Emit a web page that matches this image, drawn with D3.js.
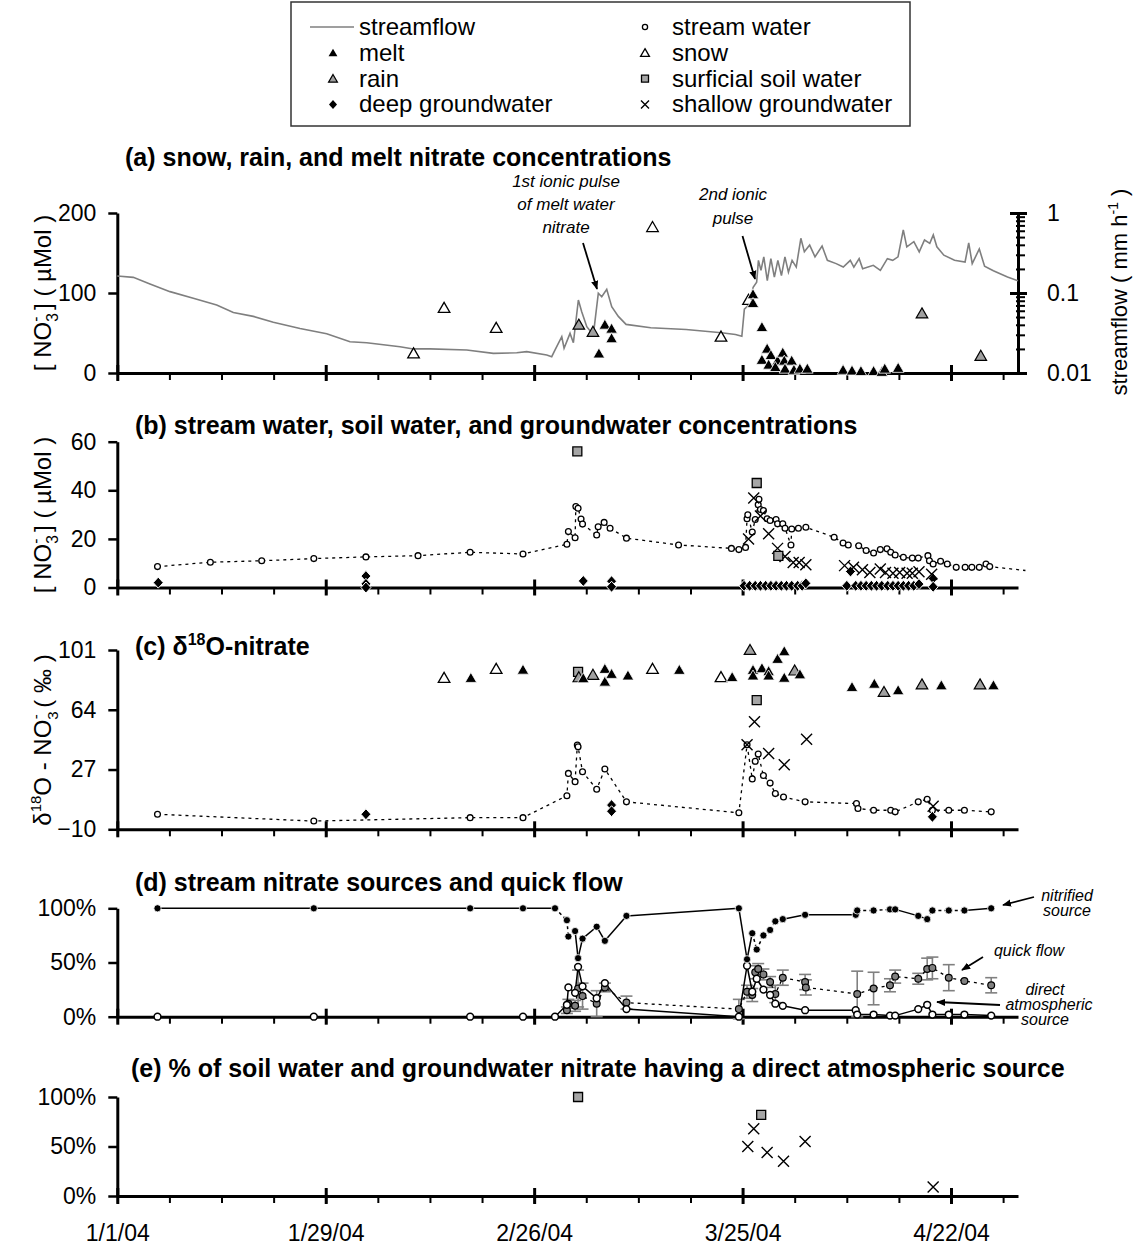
<!DOCTYPE html>
<html>
<head>
<meta charset="utf-8">
<script src="https://cdn.jsdelivr.net/npm/d3@7"></script>
<style>
  body { margin: 0; background: #fff; }
  svg text { font-family: "Liberation Sans", Arial, Helvetica, sans-serif; }
</style>
</head>
<body>
<svg id="chart" width="1133" height="1245"></svg>
<script>
// ---- data (days after 1/1/04, value) ----
var dateLabels = ["1/1/04", "1/29/04", "2/26/04", "3/25/04", "4/22/04"];
var legendLeft = ["streamflow", "melt", "rain", "deep groundwater"];
var legendRight = ["stream water", "snow", "surficial soil water", "shallow groundwater"];

// streamflow (mm/h)
var flowDays = [0, 2.15, 4.39, 7.08, 10.21, 13.35, 15.59, 18.27, 20.96, 24.55, 28.13, 31.26, 33.51, 37.98, 39.77, 42.01,
  46.94, 50.52, 53.66, 55.0, 57.69, 58.36, 58.81, 59.71, 60.02, 60.82, 61.27, 61.94, 62.39, 63.07, 63.95, 64.62, 65.08,
  65.75, 66.42, 67.31, 68.35, 71.66, 76.41, 81.16, 83.04, 83.9, 84.24, 84.95, 85.42, 85.89, 86.13, 86.47, 86.85, 87.32,
  87.8, 88.27, 88.74, 89.22, 89.69, 90.16, 90.65, 91.21, 91.83, 92.3, 93.01, 93.73, 94.68, 95.39, 96.57, 97.53, 98.47,
  98.95, 99.66, 100.13, 101.56, 102.51, 103.45, 104.17, 104.88, 105.59, 106.06, 107.01, 107.73, 108.44, 109.15, 109.62,
  110.1, 111.04, 112.47, 113.89, 114.38, 114.85, 115.8, 116.51, 117.69, 119.59, 121.0];
var flowVals = [0.163, 0.157, 0.130, 0.104, 0.086, 0.071, 0.057, 0.051, 0.043, 0.036, 0.031, 0.0246, 0.0239, 0.0213, 0.0200, 0.0200,
  0.0194, 0.0176, 0.0179, 0.0185, 0.0168, 0.0160, 0.0194, 0.0284, 0.0204, 0.0313, 0.0239, 0.0818, 0.0584, 0.0379, 0.0299, 0.0992, 0.0899,
  0.111, 0.0674, 0.051, 0.0405, 0.0367, 0.0350, 0.0318, 0.0303, 0.0288, 0.0627, 0.0726, 0.118, 0.136, 0.256, 0.192, 0.283, 0.143,
  0.269, 0.158, 0.256, 0.165, 0.283, 0.182, 0.256, 0.211, 0.483, 0.327, 0.397, 0.283, 0.387, 0.256, 0.233, 0.211, 0.256,
  0.211, 0.269, 0.201, 0.222, 0.192, 0.269, 0.256, 0.283, 0.615, 0.378, 0.438, 0.327, 0.460, 0.417, 0.532,
  0.378, 0.297, 0.256, 0.244, 0.422, 0.233, 0.355, 0.216, 0.190, 0.159, 0.142];

// (a) NO3- concentrations in precipitation (µMol)
var meltA = [[64.7, 23], [65.5, 59], [66.4, 54], [66.4, 42], [85.4, 97], [85.4, 86], [86.6, 56], [87.3, 29], [86.6, 15],
  [87.8, 21], [87.5, 9], [88.7, 14], [88.4, 6], [89.4, 24], [89.6, 14], [89.7, 4], [90.6, 14], [90.9, 2.5], [91.7, 4],
  [92.7, 4], [97.5, 2.5], [98.7, 1.6], [99.9, 1], [101.6, 1], [102.7, 0], [103.1, 4], [104.9, 5]];
var rainA = [[62.0, 59], [63.9, 50], [108.1, 73], [116.0, 20]];
var snowA = [[39.8, 23], [43.9, 80], [50.9, 55], [71.9, 181], [81.1, 44], [84.8, 90]];

// (b) stream water, soil water, groundwater NO3- (µMol)
var streamB = [[5.4, 8.6], [12.5, 10.4], [19.4, 11.0], [26.4, 11.9], [33.4, 12.6], [40.4, 13.1], [47.4, 14.5], [54.5, 13.8],
  [60.4, 17.8], [60.6, 23.0], [61.5, 20.5], [61.6, 33.3], [61.9, 32.6], [62.3, 28.2], [62.5, 26.1], [64.4, 21.6], [64.6, 25.0],
  [65.4, 26.8], [66.2, 24.4], [68.4, 20.3], [75.4, 17.5], [82.5, 16.1], [83.5, 15.6], [84.4, 16.5], [84.6, 28.3], [84.7, 29.9],
  [85.3, 22.8], [85.7, 28.0], [86.1, 34.1], [86.2, 36.3], [86.4, 32.1], [86.8, 31.7], [87.3, 28.3], [87.7, 27.6], [88.5, 28.0],
  [88.7, 26.2], [89.4, 26.2], [89.7, 24.4], [90.5, 17.5], [90.6, 24.1], [91.5, 24.4], [92.5, 24.8], [96.3, 20.7], [97.5, 18.3],
  [98.2, 17.5], [99.6, 17.2], [100.6, 15.2], [101.6, 14.2], [102.5, 15.6], [103.4, 15.9], [103.9, 14.5], [104.5, 13.4],
  [105.6, 12.4], [106.8, 12.1], [107.6, 12.1], [108.9, 13.1], [109.1, 11.0], [109.6, 9.7], [110.6, 10.8], [111.5, 9.7],
  [112.7, 8.3], [113.9, 8.3], [114.8, 8.3], [115.8, 8.3], [116.7, 9.7], [117.2, 8.6]];
var streamBLineEnd = [122.0, 7];
var soilB = [[61.8, 56], [85.9, 43], [88.8, 13]];
var shallowB = [[84.8, 20], [85.5, 36.8], [86.4, 29.4], [87.5, 22.1], [88.7, 16.1], [89.7, 12.8], [90.8, 10.3], [91.6, 10.3],
  [92.5, 9.4], [97.7, 9.0], [98.9, 8.3], [100.1, 7.3], [101.1, 6.2], [102.5, 7.6], [103.2, 6.2], [104.2, 5.9], [105.1, 6.2],
  [106.1, 5.9], [106.8, 5.9], [107.7, 6.5], [109.4, 5.5]];
var deepB = [[5.5, 2.0], [33.4, 4.7], [33.4, 1.5], [33.4, 0], [62.6, 2.7], [66.4, 2.6], [66.4, 0.3],
  [84.2, 0.7], [84.95, 0.7], [85.7, 0.7], [86.4, 0.7], [87.1, 0.7], [87.8, 0.7], [88.5, 0.7], [89.2, 0.7], [89.9, 0.7],
  [90.6, 0.7], [91.4, 0.7], [92.0, 0.7], [92.5, 1.7],
  [98.0, 0.7], [98.5, 6.6], [99.2, 0.7], [99.9, 0.7], [100.6, 0.7], [101.3, 0.7], [102.0, 0.7], [102.7, 0.7], [103.5, 0.7],
  [104.2, 0.7], [104.9, 0.7], [105.6, 0.7], [106.3, 0.7], [107.0, 0.7], [107.7, 1.4], [109.6, 3.7], [109.6, 0.3]];

// (c) δ18O-nitrate (‰)
var streamC = [[5.4, -0.7], [26.4, -4.9], [47.4, -2.8], [54.5, -2.8], [60.4, 10.8], [60.6, 24.6], [61.5, 19.5], [61.8, 42.2],
  [61.9, 41.1], [62.5, 25.6], [64.4, 14.8], [65.5, 27.3], [68.4, 7.0], [83.5, 0.2], [84.6, 42.3], [85.3, 21.2], [85.7, 32.1],
  [86.1, 36.6], [86.8, 23.3], [87.7, 18.6], [88.4, 12.1], [89.5, 10.0], [92.4, 7.0], [99.3, 5.9], [99.5, 2.9], [101.6, 1.8],
  [103.9, 1.8], [104.5, 0.8], [107.6, 7.0], [108.8, 8.6], [109.5, 1.8], [111.7, 1.8], [113.8, 1.8], [117.4, 0.8]];
var meltC = [[47.5, 83.0], [54.5, 88.1], [62.6, 82.8], [65.5, 88.6], [65.5, 80.7], [66.4, 85.5], [68.6, 84.5], [75.5, 88.0],
  [82.6, 83.5], [85.4, 88.0], [85.4, 84.5], [86.6, 89.0], [87.5, 87.2], [87.5, 84.5], [88.7, 94.8], [89.6, 99.5], [89.6, 83.1],
  [91.7, 85.2], [98.7, 77.4], [101.7, 79.4], [104.9, 75.4], [110.7, 78.4], [117.7, 78.4]];
var rainC = [[62.0, 83.4], [63.9, 84.9], [85.0, 100.3], [91.0, 87.6], [103.0, 74.3], [108.1, 79.0], [115.9, 79.0]];
var snowC = [[43.9, 83.0], [50.9, 88.6], [71.9, 88.6], [81.1, 83.5]];
var soilC = [[61.9, 87.5], [85.9, 70]];
var shallowC = [[84.6, 42.3], [85.6, 56.6], [87.5, 37.0], [89.6, 30.0], [92.6, 45.7], [109.6, 4.3]];
var deepC = [[33.4, -0.7], [66.4, 5.0], [66.4, 1.2], [109.5, -2.3]];

// (d) stream nitrate sources (%) and quick flow (%)
var sourceDays = [5.4, 26.4, 47.4, 54.5, 58.8, 60.4, 60.6, 61.5, 61.9, 62.5, 64.4, 65.5, 68.4, 83.5, 84.6, 85.3, 85.9, 86.8,
  87.7, 88.4, 89.4, 92.4, 99.2, 99.4, 101.6, 103.8, 104.5, 107.6, 108.8, 109.5, 111.7, 113.8, 117.4];
var nitrified = [100, 100, 100, 100, 100, 89, 74, 79, 54, 72, 83, 70, 93, 100, 53, 77, 62, 75, 80, 88, 90, 94, 94, 98, 98, 99,
  99, 93, 90, 98, 98, 98, 100];
var atmospheric = [0, 0, 0, 0, 0, 11, 27, 22, 46, 28, 17, 31, 7, 0, 47, 23, 35, 25, 20, 12, 10, 6, 6, 2, 2, 1, 1, 7, 11, 2, 2,
  2, 1];
// how each nitrified sample links to the next one: s = weekly (solid), d = event (dashed)
var nitrifiedLink = ["s", "s", "s", "s", "d", "d", "d", "s", "s", "s", "s", "s", "s", "s", "s", "d", "d", "d", "d", "d", "s",
  "s", "d", "d", "d", "d", "s", "s", "d", "d", "d", "s"];
var quickDays = [60.4, 60.6, 61.5, 61.9, 62.5, 64.4, 65.5, 68.4, 83.5, 84.6, 85.3, 85.7, 86.1, 86.8, 87.7, 88.4, 89.4, 92.4,
  92.5, 99.4, 101.6, 103.8, 104.5, 107.6, 108.8, 109.5, 111.7, 113.8, 117.4];
var quickFlow = [6, 12, 10, 26, 19, 12, 27, 13, 7, 23, 20, 41, 44, 39, 32, 21, 36, 32, 27, 21, 26, 29, 37, 35, 44, 45, 36, 33, 29];
var quickErr = [3, 4, 5, 17, 12, 12, 4, 6, 9, 6, 6, 6, 5, 5, 5, 8, 7, 7, 7, 21, 15, 6, 6, 5, 10, 10, 12, 0, 7];

// (e) % of soil water / groundwater nitrate with direct atmospheric source
var soilE = [[61.9, 100], [86.5, 82]];
var shallowE = [[84.7, 50], [85.5, 68], [87.3, 44], [89.5, 35], [92.4, 55], [109.6, 9]];

// ---- setup ----
var svg = d3.select("#chart");
var start = new Date(Date.UTC(2004, 0, 1)), end = new Date(Date.UTC(2004, 4, 1));
function dt(d) { return new Date(start.getTime() + d * 864e5); }
var x = d3.scaleUtc().domain([start, end]).range([117.3, 1018]);
var minorTicks = d3.utcDay.range(start, end, 7);
var majorTicks = d3.utcDay.range(start, end, 28);

var yA = d3.scaleLinear().domain([0, 200]).range([373, 213]);
var yFlow = d3.scaleLog().domain([0.01, 1]).range([373, 213]);
var yB = d3.scaleLinear().domain([0, 60]).range([587.5, 441.7]);
var yC = d3.scaleLinear().domain([-10, 101]).range([829.3, 650]);
var yD = d3.scaleLinear().domain([0, 100]).range([1016.7, 908.3]);
var yE = d3.scaleLinear().domain([0, 100]).range([1196, 1097]);

var triPath = d3.symbol(d3.symbolTriangle, 58)();
var triSmall = d3.symbol(d3.symbolTriangle, 34)();
var diamondPath = "M0,-5.5L5,0L0,5.5L-5,0Z";
var squarePath = "M-4.5,-4.5h9v9h-9Z";
var crossPath = "M-5.5,-5.5L5.5,5.5M-5.5,5.5L5.5,-5.5";

var styles = {
  melt: { fill: "#000", stroke: "#fff", sw: 0.8 },
  rain: { fill: "#a0a0a0", stroke: "#000", sw: 1.2 },
  snow: { fill: "#fff", stroke: "#000", sw: 1.3 },
  soil: { fill: "#a6a6a6", stroke: "#000", sw: 1.3 },
  deep: { fill: "#000", stroke: "#fff", sw: 1 },
  shallow: { fill: "none", stroke: "#000", sw: 1.4 }
};

function xAxis(y0, labels) {
  var g = svg.append("g").attr("transform", "translate(0," + y0 + ")");
  g.call(d3.axisBottom(x).tickValues(minorTicks).tickSize(7).tickSizeOuter(0).tickFormat(""));
  g.select(".domain").attr("stroke-width", 3);
  g.selectAll(".tick line").attr("stroke-width", 2);
  var gm = svg.append("g").attr("transform", "translate(0," + y0 + ")");
  gm.call(d3.axisBottom(x).tickValues(majorTicks).tickSize(8).tickSizeOuter(0)
    .tickPadding(21).tickFormat(function (d, i) { return labels ? dateLabels[i] : ""; }));
  gm.select(".domain").remove();
  gm.selectAll(".tick line").attr("y1", -8).attr("stroke-width", 3);
  gm.attr("font-size", 23).attr("font-family", null);
  gm.selectAll(".tick text").attr("fill", "#000");
}

function yAxis(scale, vals, fmt) {
  var g = svg.append("g").attr("transform", "translate(117.3,0)");
  g.call(d3.axisLeft(scale).tickValues(vals).tickSize(9).tickSizeOuter(0).tickPadding(12).tickFormat(fmt));
  g.attr("font-size", 23).attr("font-family", null);
  g.select(".domain").attr("stroke-width", 3);
  g.selectAll(".tick line").attr("stroke-width", 2.5);
  g.selectAll(".tick text").attr("fill", "#000");
}

function marks(data, yScale, path, st) {
  svg.append("g").selectAll("path").data(data).join("path")
    .attr("d", path)
    .attr("transform", function (d) { return "translate(" + x(dt(d[0])) + "," + yScale(d[1]) + ")"; })
    .attr("fill", st.fill).attr("stroke", st.stroke).attr("stroke-width", st.sw);
}

function circles(data, yScale, r, fill, stroke, sw) {
  svg.append("g").selectAll("circle").data(data).join("circle")
    .attr("cx", function (d) { return x(dt(d[0])); })
    .attr("cy", function (d) { return yScale(d[1]); })
    .attr("r", r).attr("fill", fill).attr("stroke", stroke).attr("stroke-width", sw);
}

function path(data, yScale, dash, width, color) {
  var line = d3.line().x(function (d) { return x(dt(d[0])); }).y(function (d) { return yScale(d[1]); });
  svg.append("path").datum(data).attr("d", line).attr("fill", "none")
    .attr("stroke", color || "#000").attr("stroke-width", width).attr("stroke-dasharray", dash);
}

function title(xp, yp, txt) {
  return svg.append("text").attr("x", xp).attr("y", yp).attr("font-size", 25).attr("font-weight", "bold").text(txt);
}

function note(lines, xp, yp, step, size) {
  lines.forEach(function (t, i) {
    svg.append("text").attr("x", xp).attr("y", yp + i * step).attr("text-anchor", "middle")
      .attr("font-size", size || 17).attr("font-style", "italic").text(t);
  });
}

// arrow marker
svg.append("defs").append("marker").attr("id", "arrow").attr("viewBox", "0 0 10 10")
  .attr("refX", 9).attr("refY", 5).attr("markerWidth", 9).attr("markerHeight", 9)
  .attr("markerUnits", "userSpaceOnUse").attr("orient", "auto")
  .append("path").attr("d", "M0,1L10,5L0,9Z").attr("fill", "#000");

function arrow(x1, y1, x2, y2) {
  svg.append("line").attr("x1", x1).attr("y1", y1).attr("x2", x2).attr("y2", y2)
    .attr("stroke", "#000").attr("stroke-width", 1.8).attr("marker-end", "url(#arrow)");
}

function noLabel(t, size) {
  t.append("tspan").text("[ NO");
  t.append("tspan").attr("font-size", size * 0.65).attr("dy", size * 0.3).text("3");
  t.append("tspan").attr("font-size", size * 0.65).attr("dx", -size * 0.36).attr("dy", -size * 0.72).text("-");
  t.append("tspan").attr("dy", size * 0.42).text(" ] ( µMol )");
}

// ---- legend ----
var lg = svg.append("g");
lg.append("rect").attr("x", 291).attr("y", 2).attr("width", 619).attr("height", 124)
  .attr("fill", "#fff").attr("stroke", "#333").attr("stroke-width", 1.5);
var rowY = d3.range(4).map(function (i) { return 35 + i * 25.8; });
legendLeft.forEach(function (t, i) {
  lg.append("text").attr("x", 359).attr("y", rowY[i]).attr("font-size", 24).text(t);
});
legendRight.forEach(function (t, i) {
  lg.append("text").attr("x", 672).attr("y", rowY[i]).attr("font-size", 24).text(t);
});
lg.append("line").attr("x1", 310).attr("x2", 354).attr("y1", rowY[0] - 8).attr("y2", rowY[0] - 8)
  .attr("stroke", "#7f7f7f").attr("stroke-width", 1.6);
function legMark(xp, yp, p, st) {
  lg.append("path").attr("d", p).attr("transform", "translate(" + xp + "," + yp + ")")
    .attr("fill", st.fill).attr("stroke", st.stroke === "#fff" ? "none" : st.stroke).attr("stroke-width", st.sw);
}
legMark(333, rowY[1] - 7, triSmall, styles.melt);
legMark(333, rowY[2] - 7, triSmall, styles.rain);
legMark(333, rowY[3] - 8, "M0,-4.5L4,0L0,4.5L-4,0Z", styles.deep);
lg.append("circle").attr("cx", 645).attr("cy", rowY[0] - 8).attr("r", 2.6).attr("fill", "#fff")
  .attr("stroke", "#000").attr("stroke-width", 1.3);
legMark(645, rowY[1] - 7, triSmall, styles.snow);
legMark(645, rowY[2] - 8, "M-3.5,-3.5h7v7h-7Z", styles.soil);
legMark(645, rowY[3] - 8, "M-4,-4L4,4M-4,4L4,-4", styles.shallow);

// ---- panel (a) ----
title(125, 166, "(a) snow, rain, and melt nitrate concentrations");
xAxis(373, false);
yAxis(yA, [0, 100, 200], d3.format("d"));
var gr = svg.append("g").attr("transform", "translate(1018,0)");
var flowTicks = [];
[0.01, 0.1].forEach(function (b) { for (var k = 1; k <= 10; k++) flowTicks.push(+(b * k).toPrecision(3)); });
flowTicks = Array.from(new Set(flowTicks));
gr.call(d3.axisRight(yFlow).tickValues(flowTicks).tickSize(7).tickSizeOuter(0).tickPadding(22)
  .tickFormat(function (d) { return [0.01, 0.1, 1].indexOf(d) >= 0 ? String(d) : ""; }));
gr.attr("font-size", 23).attr("font-family", null);
gr.select(".domain").attr("stroke-width", 3);
gr.selectAll(".tick line").attr("stroke-width", 2).attr("x1", -2)
  .filter(function (d) { return [0.01, 0.1, 1].indexOf(d) >= 0; })
  .attr("x1", -8).attr("x2", 9).attr("stroke-width", 3);
gr.selectAll(".tick text").attr("fill", "#000");

var laA = svg.append("text").attr("transform", "translate(51,293) rotate(-90)").attr("text-anchor", "middle").attr("font-size", 24);
noLabel(laA, 24);
var laR = svg.append("text").attr("transform", "translate(1127,292) rotate(-90)").attr("text-anchor", "middle").attr("font-size", 22);
laR.append("tspan").text("streamflow ( mm h");
laR.append("tspan").attr("font-size", 14).attr("dy", -9).text("-1");
laR.append("tspan").attr("dy", 9).text(" )");

path(d3.zip(flowDays, flowVals), yFlow, null, 1.6, "#7f7f7f");
marks(snowA, yA, triPath, styles.snow);
marks(rainA, yA, triPath, styles.rain);
marks(meltA, yA, triPath, styles.melt);
note(["1st ionic pulse", "of melt water", "nitrate"], 566, 187, 23);
arrow(583, 243, 597, 289);
note(["2nd ionic", "pulse"], 733, 200, 24);
arrow(742.5, 236, 755, 279);

// ---- panel (b) ----
title(135, 434, "(b) stream water, soil water, and groundwater concentrations");
xAxis(587.5, false);
yAxis(yB, [0, 20, 40, 60], d3.format("d"));
var laB = svg.append("text").attr("transform", "translate(51,515) rotate(-90)").attr("text-anchor", "middle").attr("font-size", 24);
noLabel(laB, 24);
path(streamB.concat([streamBLineEnd]), yB, "3,4", 1.3);
circles(streamB, yB, 2.9, "#fff", "#000", 1.3);
marks(deepB, yB, diamondPath, styles.deep);
marks(shallowB, yB, crossPath, styles.shallow);
marks(soilB, yB, squarePath, styles.soil);

// ---- panel (c) ----
var tc = title(135, 655, "(c) δ");
tc.append("tspan").attr("font-size", 16).attr("dy", -10).text("18");
tc.append("tspan").attr("dy", 10).text("O-nitrate");
xAxis(829.3, false);
yAxis(yC, [-10, 27, 64, 101], d3.format("d"));
var laC = svg.append("text").attr("transform", "translate(51,740) rotate(-90)").attr("text-anchor", "middle").attr("font-size", 24);
laC.append("tspan").text("δ");
laC.append("tspan").attr("font-size", 15).attr("dy", -10).text("18");
laC.append("tspan").attr("dy", 10).text("O - NO");
laC.append("tspan").attr("font-size", 15).attr("dy", 7).text("3");
laC.append("tspan").attr("font-size", 15).attr("dx", -8).attr("dy", -17).text("-");
laC.append("tspan").attr("dy", 10).text(" ( ‰ )");
path(streamC, yC, "3,4", 1.3);
circles(streamC, yC, 2.9, "#fff", "#000", 1.3);
marks(snowC, yC, triPath, styles.snow);
marks(soilC, yC, squarePath, styles.soil);
marks(rainC, yC, triPath, styles.rain);
marks(meltC, yC, triPath, styles.melt);
marks(shallowC, yC, crossPath, styles.shallow);
marks(deepC, yC, diamondPath, styles.deep);

// ---- panel (d) ----
title(135, 891, "(d) stream nitrate sources and quick flow");
xAxis(1016.7, false);
yAxis(yD, [0, 50, 100], function (d) { return d + "%"; });
var nitPts = d3.zip(sourceDays, nitrified);
var atmPts = d3.zip(sourceDays, atmospheric);
var qPts = d3.zip(quickDays, quickFlow, quickErr);
// error bars
var eb = svg.append("g").attr("stroke", "#808080").attr("stroke-width", 1.6);
qPts.filter(function (d) { return d[2] > 0; }).forEach(function (d) {
  var cx = x(dt(d[0])), y1 = yD(d[1] - d[2]), y2 = yD(d[1] + d[2]);
  eb.append("line").attr("x1", cx).attr("x2", cx).attr("y1", y1).attr("y2", y2);
  eb.append("line").attr("x1", cx - 6).attr("x2", cx + 6).attr("y1", y1).attr("y2", y1);
  eb.append("line").attr("x1", cx - 6).attr("x2", cx + 6).attr("y1", y2).attr("y2", y2);
});
path(qPts, yD, "3,4", 1.3);
path(atmPts, yD, null, 1.5);
d3.pairs(nitPts).forEach(function (pr, i) {
  path(pr, yD, nitrifiedLink[i] === "d" ? "3,3" : null, 1.5);
});
circles(qPts, yD, 3.4, "#808080", "#000", 1.2);
circles(atmPts, yD, 3.4, "#fff", "#000", 1.5);
circles(nitPts, yD, 3.6, "#000", "#fff", 0.8);
note(["nitrified", "source"], 1067, 901, 15, 16);
arrow(1034, 897, 1003, 905);
note(["quick flow"], 1029, 956, 0, 16);
arrow(983, 957, 962, 970);
note(["direct"], 1045, 995, 0, 16);
note(["atmospheric"], 1049, 1010, 0, 16);
note(["source"], 1045, 1025, 0, 16);
arrow(1000, 1005, 937, 1002);

// ---- panel (e) ----
title(131, 1077, "(e) % of soil water and groundwater nitrate having a direct atmospheric source");
xAxis(1196, true);
yAxis(yE, [0, 50, 100], function (d) { return d + "%"; });
marks(soilE, yE, squarePath, styles.soil);
marks(shallowE, yE, crossPath, styles.shallow);
</script>
</body>
</html>
